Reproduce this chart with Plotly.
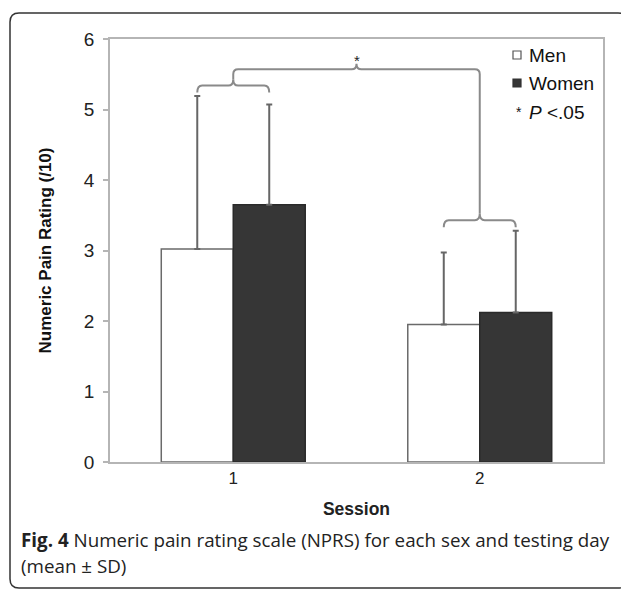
import plotly.graph_objects as go

sessions = [0, 1]
session_labels = ["1", "2"]
men_mean = [3.02, 1.95]
men_sd = [2.17, 1.02]
women_mean = [3.65, 2.12]
women_sd = [1.42, 1.16]

# page places the figure 8px from the top-left corner (default body margin)
OFF = 8
W, H = 629 - OFF, 590 - OFF
PL, PR, PT, PB = 110, 603, 39, 462   # plot area in screen pixels
ML, MR, MT, MB = PL - OFF, 629 - PR, PT - OFF, 590 - PB
PW, PH = PR - PL, PB - PT

def px_x(px):
    return (px - PL) / PW

def px_y(py):
    return (PB - py) / PH

BARGAP = 0.416
fig = go.Figure()
fig.add_trace(go.Bar(
    x=sessions, y=men_mean, name="Men",
    marker=dict(color="white", line=dict(color="#6a6a6a", width=1.5)),
    error_y=dict(type="data", array=men_sd, arrayminus=[0, 0], symmetric=False,
                 color="#666666", thickness=2, width=3),
    showlegend=False,
))
fig.add_trace(go.Bar(
    x=sessions, y=women_mean, name="Women",
    marker=dict(color="#363636", line=dict(color="#2a2a2a", width=1.5)),
    error_y=dict(type="data", array=women_sd, arrayminus=[0, 0], symmetric=False,
                 color="#666666", thickness=2, width=3),
    showlegend=False,
))

# braces computed from data
d = (1 - BARGAP) / 4
rx, ry = 0.02, 0.07
tops = [max(m + s, w + t) for m, s, w, t in zip(men_mean, men_sd, women_mean, women_sd)]
brace_tips = []
shapes = []
for i, top in zip(sessions, tops):
    x0, x1, xc = i - d, i + d, i
    yend, yh, ytip = top + 0.05, top + 0.15, top + 0.24
    brace_tips.append(ytip)
    p = (f"M{x0},{yend} Q{x0},{yh} {x0+rx},{yh} L{xc-rx},{yh} Q{xc},{yh} {xc},{ytip} "
         f"Q{xc},{yh} {xc+rx},{yh} L{x1-rx},{yh} Q{x1},{yh} {x1},{yend}")
    shapes.append(dict(type="path", path=p, xref="x", yref="y",
                       line=dict(color="#8a8a8a", width=2)))

yh_top = 5.57
ytip_top = 5.65
xa, xb = sessions[0], sessions[1]
xm = (xa + xb) / 2
p = (f"M{xa},{brace_tips[0]} L{xa},{yh_top-ry} Q{xa},{yh_top} {xa+rx},{yh_top} "
     f"L{xm-rx},{yh_top} Q{xm},{yh_top} {xm},{ytip_top} Q{xm},{yh_top} {xm+rx},{yh_top} "
     f"L{xb-rx},{yh_top} Q{xb},{yh_top} {xb},{yh_top-ry} L{xb},{brace_tips[1]}")
shapes.append(dict(type="path", path=p, xref="x", yref="y",
                   line=dict(color="#8a8a8a", width=2)))

# outer rounded frame
fx0, fx1 = px_x(10), px_x(627)
fy0, fy1 = px_y(588), px_y(13)
frx, fry = 9 / PW, 9 / PH
fp = (f"M{fx0+frx},{fy1} L{fx1-frx},{fy1} Q{fx1},{fy1} {fx1},{fy1-fry} "
      f"L{fx1},{fy0+fry} Q{fx1},{fy0} {fx1-frx},{fy0} L{fx0+frx},{fy0} "
      f"Q{fx0},{fy0} {fx0},{fy0+fry} L{fx0},{fy1-fry} Q{fx0},{fy1} {fx0+frx},{fy1} Z")
shapes.append(dict(type="path", path=fp, xref="paper", yref="paper",
                   line=dict(color="#333333", width=1.5)))

# legend squares
shapes.append(dict(type="rect", xref="paper", yref="paper",
                   x0=px_x(513), x1=px_x(521), y0=px_y(59), y1=px_y(51),
                   fillcolor="white", line=dict(color="#555555", width=1.2)))
shapes.append(dict(type="rect", xref="paper", yref="paper",
                   x0=px_x(513), x1=px_x(521), y0=px_y(87), y1=px_y(79),
                   fillcolor="#363636", line=dict(color="#333333", width=1.2)))

AF = "Liberation Sans, Arial, sans-serif"
CF = "Open Sans, sans-serif"
annotations = [
    dict(x=xm, y=px_y(61), xref="x", yref="paper", text="*", showarrow=False,
         yanchor="middle", font=dict(family=AF, size=15, color="#222")),
    dict(x=px_x(527), y=px_y(55), xref="paper", yref="paper", text="Men", showarrow=False,
         xanchor="left", yanchor="middle", font=dict(family=AF, size=19, color="#111")),
    dict(x=px_x(527), y=px_y(83), xref="paper", yref="paper", text="Women", showarrow=False,
         xanchor="left", yanchor="middle", font=dict(family=AF, size=19, color="#111")),
    dict(x=px_x(519), y=px_y(112), xref="paper", yref="paper", text="*",
         showarrow=False, xanchor="center", yanchor="middle",
         font=dict(family=AF, size=14, color="#111")),
    dict(x=px_x(527), y=px_y(112), xref="paper", yref="paper",
         text="<i>P</i> <.05",
         showarrow=False, xanchor="left", yanchor="middle",
         font=dict(family=AF, size=19, color="#111")),
    dict(x=px_x(19), y=px_y(540), xref="paper", yref="paper",
         text="<b>Fig. 4</b> Numeric pain rating scale (NPRS) for each sex and testing day",
         showarrow=False, xanchor="left", yanchor="middle",
         font=dict(family=CF, size=18.8, color="#222")),
    dict(x=px_x(19), y=px_y(566), xref="paper", yref="paper",
         text="(mean ± SD)", showarrow=False, xanchor="left", yanchor="middle",
         font=dict(family=CF, size=18.8, color="#222")),
]

fig.update_layout(
    width=W, height=H,
    margin=dict(l=ML, r=MR, t=MT, b=MB, pad=0),
    paper_bgcolor="white", plot_bgcolor="white",
    barmode="group", bargap=BARGAP, bargroupgap=0,
    shapes=shapes, annotations=annotations,
    showlegend=False,
    xaxis=dict(range=[-0.5, 1.5], tickvals=sessions, ticktext=session_labels,
               showgrid=False, zeroline=False, showline=True, mirror=True,
               linecolor="#b5b5b5", linewidth=1.5, ticks="",
               tickfont=dict(family=AF, size=17, color="#222"),
               title=dict(text="<b>Session</b>", standoff=16,
                          font=dict(family=AF, size=17.5, color="#222"))),
    yaxis=dict(range=[0, 6], tickvals=[0, 1, 2, 3, 4, 5, 6],
               showgrid=False, zeroline=False, showline=True, mirror=True,
               linecolor="#b5b5b5", linewidth=1.5, ticks="outside", ticklen=5,
               tickcolor="#b5b5b5", tickwidth=1.5, ticklabelstandoff=5,
               tickfont=dict(family=AF, size=19, color="#222"),
               title=dict(text="<b>Numeric Pain Rating (/10)</b>", standoff=28,
                          font=dict(family=AF, size=17, color="#111"))),
)

fig.write_html("out.html")
